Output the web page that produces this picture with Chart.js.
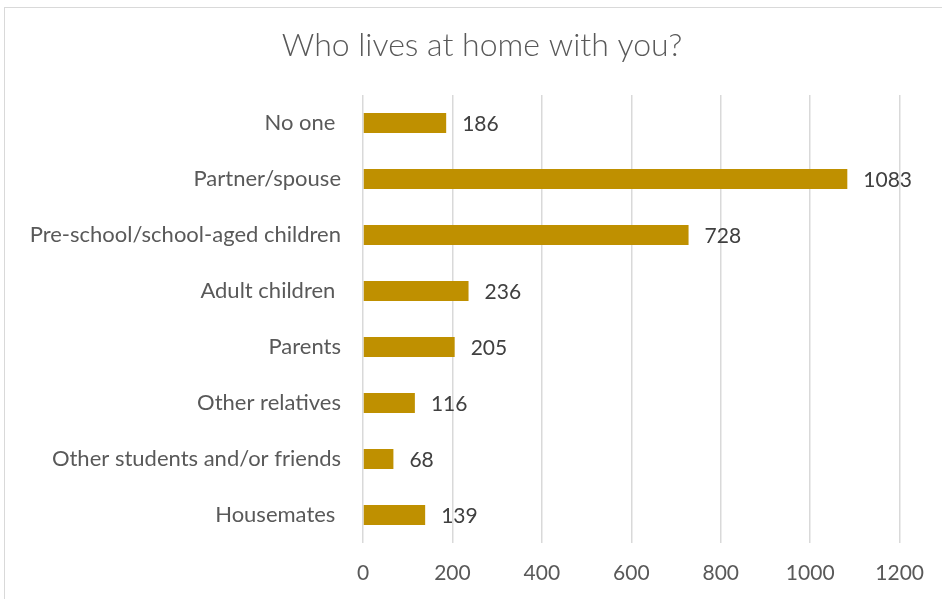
<!DOCTYPE html>
<html>
<head>
<meta charset="utf-8">
<script src="https://cdn.jsdelivr.net/npm/chart.js@4.4.1/dist/chart.umd.min.js"></script>
<style>
  html, body { margin: 0; padding: 0; background: #fff; }
  #wrap { position: relative; width: 942px; height: 599px; overflow: hidden; }
  #frame { position: absolute; left: 4px; top: 7px; width: 960px; height: 620px; border: 1px solid #d9d9d9; box-sizing: border-box; }
  #c { position: absolute; left: 0; top: 0; }
</style>
</head>
<body>
<div id="wrap">
  <div id="frame"></div>
  <canvas id="c" width="942" height="599"></canvas>
</div>
<script>
const TITLE = "Who lives at home with you?";
const CATEGORIES = [
  "No one ",
  "Partner/spouse",
  "Pre-school/school-aged children",
  "Adult children ",
  "Parents",
  "Other relatives",
  "Other students and/or friends",
  "Housemates ",
];
const COUNTS = [186, 1083, 728, 236, 205, 116, 68, 139];
const X_MAX = 1200;
const X_STEP = 200;

const BAR_COLOR = "#bf9000";
const TEXT_COLOR = "#595959";
const FONT_FAMILY = "Lato, 'Open Sans', sans-serif";
const CAT_FONT = { family: FONT_FAMILY, size: 22 };
const TICK_FONT = { family: FONT_FAMILY, size: 21 };
const VALUE_FONT = { family: FONT_FAMILY, size: 21 };

// value labels to the right of each bar
const valueLabels = {
  id: "valueLabels",
  afterDatasetsDraw(chart) {
    const ctx = chart.ctx;
    const meta = chart.getDatasetMeta(0);
    ctx.save();
    ctx.font = `${VALUE_FONT.size}px ${VALUE_FONT.family}`;
    ctx.fillStyle = "#404040";
    ctx.textAlign = "left";
    ctx.textBaseline = "middle";
    meta.data.forEach((bar, i) => {
      ctx.fillText(String(COUNTS[i]), bar.x + 16, bar.y + 1);
    });
    ctx.restore();
  }
};

// chart title, centred over the whole frame rather than the layout box
const frameTitle = {
  id: "frameTitle",
  afterDraw(chart) {
    const ctx = chart.ctx;
    ctx.save();
    ctx.font = `300 32px ${FONT_FAMILY}`;
    ctx.fillStyle = TEXT_COLOR;
    ctx.textAlign = "center";
    ctx.textBaseline = "middle";
    ctx.fillText(TITLE, 482, 46);
    ctx.restore();
  }
};

new Chart(document.getElementById("c"), {
  type: "bar",
  data: {
    labels: CATEGORIES,
    datasets: [{
      data: COUNTS,
      backgroundColor: BAR_COLOR,
      borderWidth: 0,
      categoryPercentage: 1,
      barPercentage: 20 / 56,
    }]
  },
  options: {
    indexAxis: "y",
    responsive: false,
    animation: false,
    devicePixelRatio: 1,
    layout: { padding: { left: 0, right: 40, top: 95, bottom: 0 } },
    scales: {
      x: {
        min: 0,
        max: X_MAX,
        ticks: {
          stepSize: X_STEP,
          color: TEXT_COLOR,
          font: TICK_FONT,
          padding: 18,
          callback: (v) => String(v),
        },
        grid: { color: "#d9d9d9", lineWidth: 1.5, drawTicks: false },
        border: { display: false },
        afterFit(scale) { scale.height = 56; },
      },
      y: {
        ticks: { color: TEXT_COLOR, font: CAT_FONT, padding: 22 },
        grid: { display: false, drawTicks: false },
        border: { display: false },
        afterFit(scale) { scale.width = 363; },
      }
    },
    plugins: {
      legend: { display: false },
      tooltip: { enabled: false },
      title: { display: false },
    }
  },
  plugins: [valueLabels, frameTitle]
});
</script>
</body>
</html>
